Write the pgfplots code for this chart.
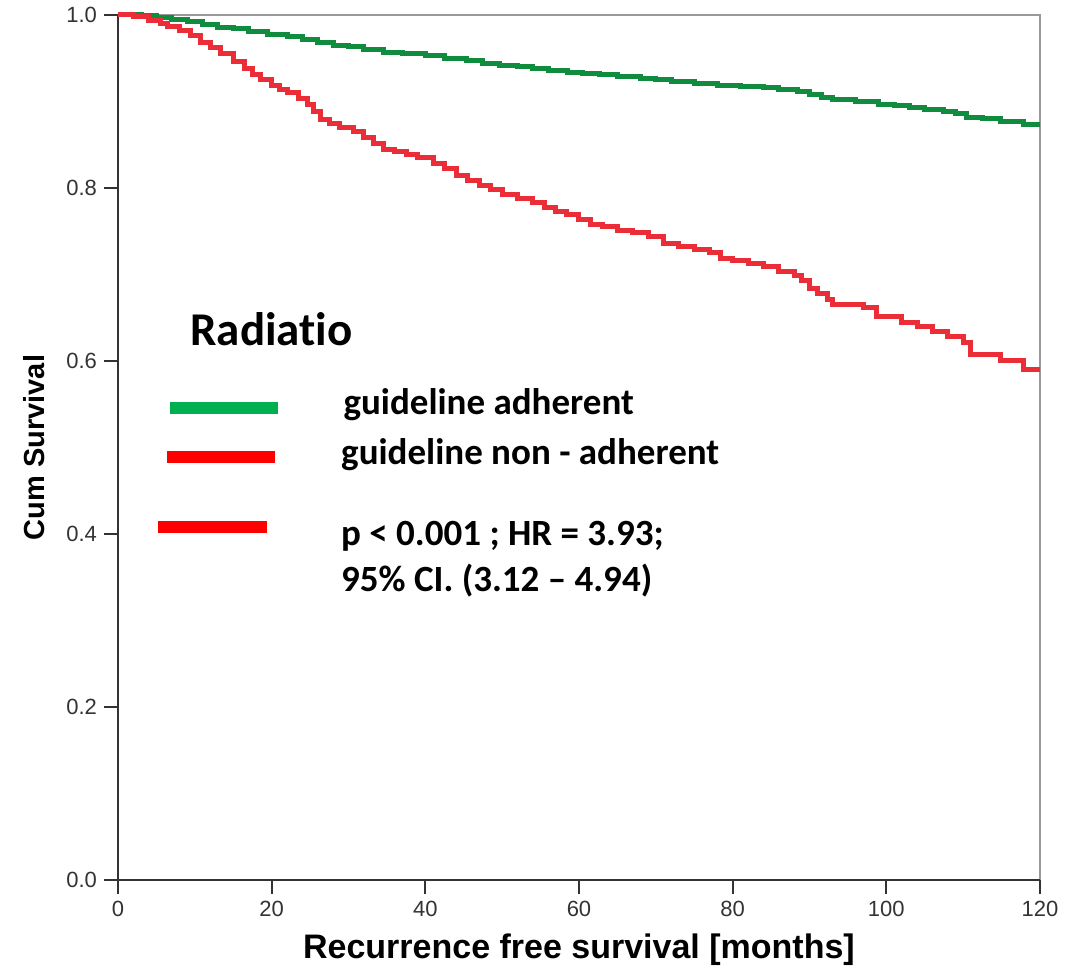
\documentclass[border=0pt]{standalone}
\usepackage{fontspec}
\setmainfont{Liberation Sans}
\newfontfamily\calibri[Ligatures={NoCommon}]{Carlito}
\usepackage{pgfplots}
\pgfplotsset{compat=1.18}

\definecolor{kmgreen}{RGB}{16,140,62}
\definecolor{kmred}{RGB}{235,45,55}
\definecolor{leggreen}{RGB}{0,176,80}
\definecolor{legred}{RGB}{255,0,0}

% survival estimates (months, cum survival)
\pgfplotstableread{
t s
0 1.000
3 0.999
5 0.997
7 0.995
9 0.992
11 0.989
13 0.986
15 0.984
17 0.981
19.4 0.978
22 0.975
24 0.972
26 0.968
28 0.965
30 0.963
32 0.960
34.5 0.957
37 0.955
40 0.953
42.5 0.950
45.4 0.947
47.5 0.944
49.7 0.942
52 0.940
54 0.938
56 0.936
58.5 0.934
60.5 0.932
62.7 0.931
65 0.929
68 0.927
70 0.925
72 0.923
75 0.921
78 0.919
81 0.917
84 0.916
86 0.914
88.4 0.912
90 0.908
91.5 0.905
93 0.902
96 0.900
99 0.897
101 0.895
103 0.893
105 0.891
107.5 0.889
109 0.886
110.5 0.882
112.5 0.880
114.8 0.877
117.8 0.873
120 0.873
}\adherent

\pgfplotstableread{
t s
0 1.000
2 0.998
4 0.994
5.5 0.990
6.5 0.987
8 0.982
9.4 0.976
10.7 0.968
12 0.962
13.3 0.955
15 0.946
16.5 0.938
17.5 0.931
18.5 0.925
20 0.918
21 0.914
22 0.910
23.5 0.904
24.6 0.897
25.5 0.888
26.3 0.879
27.5 0.874
28.8 0.870
30.6 0.865
32 0.858
33.2 0.852
34.5 0.845
36 0.842
37.5 0.839
39 0.835
41 0.828
42.5 0.822
44 0.815
45.5 0.809
47 0.803
48.5 0.798
50 0.793
52 0.788
54 0.783
55.5 0.778
57 0.773
58.4 0.769
60 0.764
61.5 0.758
63 0.755
65 0.751
67 0.748
69 0.744
71 0.736
73 0.732
75 0.729
77 0.726
78.4 0.719
80 0.716
82 0.713
84 0.709
86 0.704
88 0.699
89 0.693
90 0.684
91 0.678
92.3 0.671
93 0.665
97 0.662
98.7 0.652
102 0.645
104 0.640
106 0.634
108 0.628
110 0.621
110.9 0.607
114.8 0.600
117.8 0.590
120 0.590
}\nonadherent

\begin{document}
\begin{tikzpicture}
\begin{axis}[
    width=461pt,
    height=432.5pt,
    scale only axis,
    xmin=0, xmax=120,
    ymin=0, ymax=1,
    xtick={0,20,40,60,80,100,120},
    ytick={0,0.2,0.4,0.6,0.8,1.0},
    yticklabel style={/pgf/number format/.cd, fixed, fixed zerofill, precision=1},
    /pgf/number format/assume math mode=true,
    tick label style={font=\fontsize{11}{13}\selectfont, text=black!80},
    tick pos=left,
    tick align=outside,
    major tick length=7pt,
    tick style={black!80, line width=1pt},
    axis line style={draw=none},
    clip=false,
    xlabel={\bfseries Recurrence free survival [months]},
    ylabel={\bfseries Cum Survival},
    xlabel style={font=\fontsize{17}{20}\selectfont, at={(axis description cs:0.5,-0.0913)}, anchor=base},
    ylabel style={font=\fontsize{14.5}{17}\selectfont, at={(axis description cs:-0.0792,0.5)}, anchor=base},
]
\draw[gray!80, line width=1pt] (rel axis cs:0,1) -- (rel axis cs:1,1) -- (rel axis cs:1,0);
\draw[black!80, line width=1pt] (rel axis cs:0,1) -- (rel axis cs:0,0) -- (rel axis cs:1,0);

\addplot[const plot, kmgreen, line width=2.5pt, line join=miter] table[x=t, y=s] {\adherent};
\addplot[const plot, kmred, line width=2.5pt, line join=miter] table[x=t, y=s] {\nonadherent};

\node[anchor=base west, font=\calibri\bfseries\fontsize{23.5}{28}\selectfont, inner sep=0pt] at (axis cs:9.37,0.618) {Radiatio};
\draw[leggreen, line width=6pt] (axis cs:6.77,0.546) -- (axis cs:20.8,0.546);
\draw[legred, line width=6pt] (axis cs:6.38,0.489) -- (axis cs:20.4,0.489);
\draw[legred, line width=6pt] (axis cs:5.2,0.408) -- (axis cs:19.4,0.408);
\begin{scope}[every node/.style={anchor=base west, inner sep=0pt, font=\calibri\bfseries\fontsize{18.5}{22}\selectfont}]
\node at (axis cs:29.3,0.538) {guideline adherent};
\node at (axis cs:29.0,0.480) {guideline non - adherent};
\node at (axis cs:29.0,0.387) {p < 0.001 ; HR = 3.93;};
\node at (axis cs:29.0,0.333) {95\% CI. (3.12 – 4.94)};
\end{scope}
% margins of the reference image
\path (rel axis cs:0,0) ++(-59pt,-45pt);
\path (rel axis cs:1,1) ++(12.5pt,7.5pt);
\end{axis}
\end{tikzpicture}
\end{document}
